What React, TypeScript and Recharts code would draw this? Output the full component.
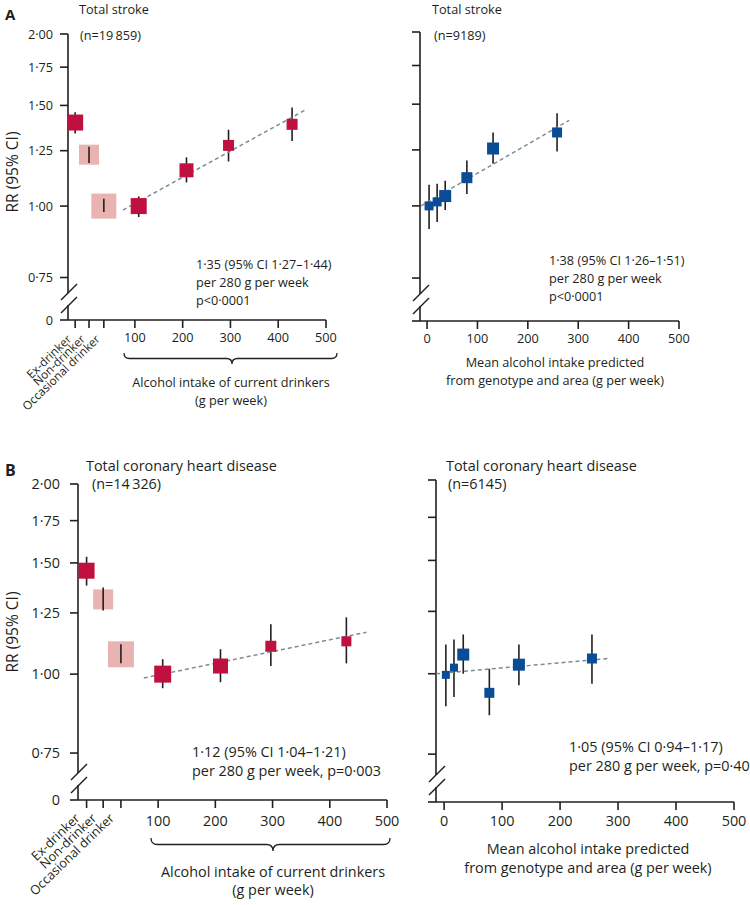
import React from "react"
import { ComposedChart, ErrorBar, Scatter, XAxis, YAxis } from "recharts"

const ink = "#231f20"
const red = "#bf1040"
const pink = "#e8b3b0"
const blue = "#0b4c97"
const trendColor = "#7a8c98"

const categories = ["Ex-drinker", "Non-drinker", "Occasional drinker"]
const categorySlots = [-25, 4, 35]
const categoryFills = [red, pink, pink]
const intakeTicks = [...categorySlots, 100, 200, 300, 400, 500]
const geneticTicks = [0, 100, 200, 300, 400, 500]
const rrFloor = 0.632
const rrTicks = [rrFloor, 0.75, 1, 1.25, 1.5, 1.75, 2]

// A: total stroke, observed
const strokeCatRR = [1.40, 1.23, 1.0]
const strokeCatLo = [1.34, 1.19, 0.976]
const strokeCatHi = [1.46, 1.27, 1.03]
const strokeIntake = [108, 208, 296, 429]
const strokeRR = [1.0, 1.155, 1.277, 1.39]
const strokeLo = [0.957, 1.1, 1.197, 1.3]
const strokeHi = [1.04, 1.217, 1.36, 1.487]
const strokeTrendX = [75, 458]
const strokeTrendRR = [0.984, 1.475]

// A: total stroke, genotype predicted
const strokeGenIntake = [4, 20, 36, 79, 131, 258]
const strokeGenRR = [1.0, 1.016, 1.04, 1.119, 1.257, 1.34]
const strokeGenLo = [0.912, 0.938, 0.984, 1.049, 1.183, 1.242]
const strokeGenHi = [1.088, 1.092, 1.105, 1.198, 1.34, 1.446]
const strokeGenTrendX = [-12, 282]
const strokeGenTrendRR = [1.0, 1.406]

// B: coronary heart disease, observed
const chdCatRR = [1.458, 1.313, 1.075]
const chdCatLo = [1.381, 1.261, 1.04]
const chdCatHi = [1.534, 1.371, 1.115]
const chdIntake = [108, 209, 297, 429]
const chdRR = [1.0, 1.03, 1.107, 1.127]
const chdLo = [0.95, 0.971, 1.03, 1.04]
const chdHi = [1.056, 1.095, 1.199, 1.23]
const chdTrendX = [75, 464]
const chdTrendRR = [0.986, 1.165]

// B: coronary heart disease, genotype predicted
const chdGenIntake = [3, 17, 33, 78, 129, 255]
const chdGenRR = [0.996, 1.022, 1.071, 0.934, 1.033, 1.056]
const chdGenLo = [0.89, 0.92, 1.0, 0.862, 0.96, 0.965]
const chdGenHi = [1.11, 1.13, 1.151, 1.018, 1.11, 1.151]
const chdGenTrendX = [-14, 283]
const chdGenTrendRR = [1.0, 1.056]

// square sizes (px), roughly the study weights
const strokeCatBox = [16, 20, 25]
const strokeBox = [16, 14, 11, 11]
const strokeGenBox = [9, 9, 12, 11, 12, 10]
const chdCatBox = [16, 20, 26]
const chdBox = [17, 15, 11, 10]
const chdGenBox = [8, 8, 12, 10, 12, 10]

const rows = (xs: number[], rr: number[], lo: number[], hi: number[], box: number[], fills: string[]) =>
  xs.map((x, i) => ({ x, rr: rr[i], lo: lo[i], hi: hi[i], err: [rr[i] - lo[i], hi[i] - rr[i]], box: box[i], fill: fills[i] }))

const line = (xs: number[], rr: number[]) => xs.map((x, i) => ({ x, rr: rr[i] }))

const fmt = (v: number) => (v < 0.7 ? "0" : v.toFixed(2).replace(".", "\u00b7"))

const square = (props: any) => {
  const { cx, cy, payload } = props
  const s = payload.box
  return <rect x={cx - s / 2} y={cy - s / 2} width={s} height={s} fill={payload.fill} />
}
const blank = () => <g />

type Geo = { left: number; right: number; top: number; bottom: number }

function Panel(props: {
  g: Geo
  xDomain: number[]
  xTicks: number[]
  labelled: boolean
  solid: any[]
  pale: any[]
  trend: any[]
  fs: number
  tickMargin: number
  yGap: number
}) {
  const { g, xDomain, xTicks, labelled, solid, pale, trend, fs, tickMargin, yGap } = props
  const padL = 120
  const w = g.right - g.left + padL + 30
  const h = g.bottom - g.top + 130

  // category names are drawn rotated in the overlay; only the numbers here
  const xTick = (p: any) => {
    const { x, y, payload } = p
    if (categorySlots.includes(payload.value)) return <g />
    return (
      <text x={x} y={y} dy="0.71em" textAnchor="middle" fontSize={fs} fill={ink}>
        {payload.value}
      </text>
    )
  }

  return (
    <div style={{ position: "absolute", left: g.left - padL, top: g.top - 20 }}>
      <ComposedChart
        width={w}
        height={h}
        margin={{ top: 20, right: 30, bottom: 80, left: padL - 60 }}
      >
        <XAxis
          type="number"
          dataKey="x"
          domain={xDomain}
          ticks={xTicks}
          interval={0}
          allowDataOverflow
          height={30}
          tickSize={8}
          tickMargin={tickMargin}
          stroke={ink}
          strokeWidth={1.6}
          tick={xTick}
        />
        <YAxis
          type="number"
          dataKey="rr"
          scale="log"
          domain={[rrFloor, 2]}
          ticks={rrTicks}
          interval={0}
          allowDataOverflow
          width={60}
          tickSize={8}
          tickMargin={yGap}
          stroke={ink}
          strokeWidth={1.6}
          tick={labelled ? { fontSize: fs, fill: ink } : blank}
          tickFormatter={fmt}
        />
        <Scatter
          data={trend}
          shape={blank}
          line={{ stroke: trendColor, strokeWidth: 1.5, strokeDasharray: "4 3" }}
          isAnimationActive={false}
        />
        <Scatter data={solid} shape={blank} isAnimationActive={false}>
          <ErrorBar dataKey="err" direction="y" width={0} stroke={ink} strokeWidth={1.6} />
        </Scatter>
        <Scatter data={solid} shape={square} isAnimationActive={false} />
        <Scatter data={pale} shape={square} isAnimationActive={false} />
        {pale.map((r, i) => (
          <Scatter
            key={i}
            data={[{ x: r.x, rr: r.lo }, { x: r.x, rr: r.hi }]}
            shape={blank}
            line={{ stroke: ink, strokeWidth: 1.6 }}
            isAnimationActive={false}
          />
        ))}
      </ComposedChart>
    </div>
  )
}

const split = (catRows: any[], obsRows: any[]) => ({
  solid: [...catRows.filter((r) => r.fill !== pink), ...obsRows],
  pale: catRows.filter((r) => r.fill === pink),
})

const strokeObs = split(
  rows(categorySlots, strokeCatRR, strokeCatLo, strokeCatHi, strokeCatBox, categoryFills),
  rows(strokeIntake, strokeRR, strokeLo, strokeHi, strokeBox, strokeIntake.map(() => red))
)
const chdObs = split(
  rows(categorySlots, chdCatRR, chdCatLo, chdCatHi, chdCatBox, categoryFills),
  rows(chdIntake, chdRR, chdLo, chdHi, chdBox, chdIntake.map(() => red))
)
const strokeGen = rows(strokeGenIntake, strokeGenRR, strokeGenLo, strokeGenHi, strokeGenBox, strokeGenIntake.map(() => blue))
const chdGen = rows(chdGenIntake, chdGenRR, chdGenLo, chdGenHi, chdGenBox, chdGenIntake.map(() => blue))

const brace = (x1: number, x2: number, y: number, h: number, mid: number) => {
  const m = y + h / 2
  const r = h / 2
  return `M${x1},${y} Q${x1},${m} ${x1 + r},${m} L${mid - r},${m} Q${mid},${m} ${mid},${y + h} Q${mid},${m} ${mid + r},${m} L${x2 - r},${m} Q${x2},${m} ${x2},${y}`
}

const AxisBreak = ({ x, bottom }: { x: number; bottom: number }) => (
  <g stroke={ink} strokeWidth={1.5}>
    <rect x={x - 3} y={bottom - 27} width={6} height={12} fill="#fff" stroke="none" />
    <line x1={x - 7} y1={bottom - 20} x2={x + 9} y2={bottom - 36} />
    <line x1={x - 7} y1={bottom - 7} x2={x + 9} y2={bottom - 23} />
  </g>
)

// rotated category names under the left-hand panels
const CatLabels = ({ g, fs, dx, dy }: { g: Geo; fs: number; dx: number; dy: number }) => (
  <g>
    {categories.map((c, i) => {
      const x = g.left + ((categorySlots[i] + 40) / 540) * (g.right - g.left) + dx
      const y = g.bottom + dy
      return (
        <text key={c} x={x} y={y} fontSize={fs} fill={ink} textAnchor="end" transform={`rotate(-44 ${x} ${y})`}>
          {c}
        </text>
      )
    })}
  </g>
)

const T = (p: { x: number; y: number; fs: number; children: React.ReactNode; anchor?: string }) => (
  <text x={p.x} y={p.y} fontSize={p.fs} fill={ink} textAnchor={p.anchor || "start"}>
    {p.children}
  </text>
)

const fa = 12.7
const fb = 14.4

export default function App() {
  const aL = { left: 68, right: 326, top: 34, bottom: 320 }
  const aR = { left: 420, right: 679, top: 32, bottom: 321 }
  const bL = { left: 78, right: 387, top: 484, bottom: 800 }
  const bR = { left: 436, right: 734, top: 480, bottom: 802 }
  return (
    <div
      style={{
        position: "absolute",
        left: 0,
        top: 0,
        width: 750,
        height: 905,
        overflow: "hidden",
        background: "#fff",
        fontFamily: "'Open Sans', sans-serif",
      }}
    >
      <Panel g={aL} xDomain={[-40, 500]} xTicks={intakeTicks} labelled solid={strokeObs.solid} pale={strokeObs.pale}
        trend={line(strokeTrendX, strokeTrendRR)} fs={fa} tickMargin={5} yGap={7} />
      <Panel g={aR} xDomain={[-14, 500]} xTicks={geneticTicks} labelled={false} solid={strokeGen} pale={[]}
        trend={line(strokeGenTrendX, strokeGenTrendRR)} fs={fa} tickMargin={5} yGap={7} />
      <Panel g={bL} xDomain={[-40, 500]} xTicks={intakeTicks} labelled solid={chdObs.solid} pale={chdObs.pale}
        trend={line(chdTrendX, chdTrendRR)} fs={fb} tickMargin={8} yGap={10} />
      <Panel g={bR} xDomain={[-14, 500]} xTicks={geneticTicks} labelled={false} solid={chdGen} pale={[]}
        trend={line(chdGenTrendX, chdGenTrendRR)} fs={fb} tickMargin={6} yGap={7} />

      <svg width={750} height={905} style={{ position: "absolute", left: 0, top: 0, pointerEvents: "none" }}>
        <text x={5} y={19.5} fontSize={15} fontWeight={700} fill={ink}>A</text>
        <T x={79} y={14} fs={fa}>Total stroke</T>
        <T x={80} y={40} fs={fa}>(n=19{"\u2009"}859)</T>
        <T x={432} y={14} fs={fa}>Total stroke</T>
        <T x={434} y={40} fs={fa}>(n=9189)</T>
        <T x={196} y={269} fs={fa}>1·35 (95% CI 1·27–1·44)</T>
        <T x={196} y={287} fs={fa}>per 280 g per week</T>
        <T x={196} y={305} fs={fa}>p&lt;0·0001</T>
        <T x={549} y={265} fs={fa}>1·38 (95% CI 1·26–1·51)</T>
        <T x={549} y={283} fs={fa}>per 280 g per week</T>
        <T x={549} y={301} fs={fa}>p&lt;0·0001</T>
        <T x={231} y={387} fs={fa} anchor="middle">Alcohol intake of current drinkers</T>
        <T x={231} y={405} fs={fa} anchor="middle">(g per week)</T>
        <T x={555} y={367} fs={fa} anchor="middle">Mean alcohol intake predicted</T>
        <T x={555} y={385} fs={fa} anchor="middle">from genotype and area (g per week)</T>
        <text x={18} y={172} fontSize={15.5} fill={ink} textAnchor="middle" transform="rotate(-90 18 172)">RR (95% CI)</text>
        <path d={brace(124, 337, 353, 11, 232)} fill="none" stroke={ink} strokeWidth={1.3} />
        <AxisBreak x={aL.left} bottom={aL.bottom} />
        <AxisBreak x={aR.left} bottom={aR.bottom} />
        <CatLabels g={aL} fs={11.8} dx={-3} dy={20} />

        <text x={5} y={476} fontSize={16} fontWeight={700} fill={ink}>B</text>
        <T x={86} y={471} fs={fb}>Total coronary heart disease</T>
        <T x={92} y={489} fs={fb}>(n=14{"\u2009"}326)</T>
        <T x={446} y={471} fs={fb}>Total coronary heart disease</T>
        <T x={448} y={489} fs={fb}>(n=6145)</T>
        <T x={192} y={757} fs={fb}>1·12 (95% CI 1·04–1·21)</T>
        <T x={192} y={776} fs={fb}>per 280 g per week, p=0·003</T>
        <T x={569} y={752} fs={fb}>1·05 (95% CI 0·94–1·17)</T>
        <T x={569} y={771} fs={fb}>per 280 g per week, p=0·40</T>
        <T x={273} y={877} fs={fb} anchor="middle">Alcohol intake of current drinkers</T>
        <T x={273} y={895} fs={fb} anchor="middle">(g per week)</T>
        <T x={588} y={854} fs={fb} anchor="middle">Mean alcohol intake predicted</T>
        <T x={588} y={873} fs={fb} anchor="middle">from genotype and area (g per week)</T>
        <text x={18} y={632} fontSize={15.5} fill={ink} textAnchor="middle" transform="rotate(-90 18 632)">RR (95% CI)</text>
        <path d={brace(151, 390, 838, 13, 273)} fill="none" stroke={ink} strokeWidth={1.3} />
        <AxisBreak x={bL.left} bottom={bL.bottom} />
        <AxisBreak x={bR.left} bottom={bR.bottom} />
        <CatLabels g={bL} fs={12.8} dx={-6} dy={19} />
      </svg>
    </div>
  )
}
